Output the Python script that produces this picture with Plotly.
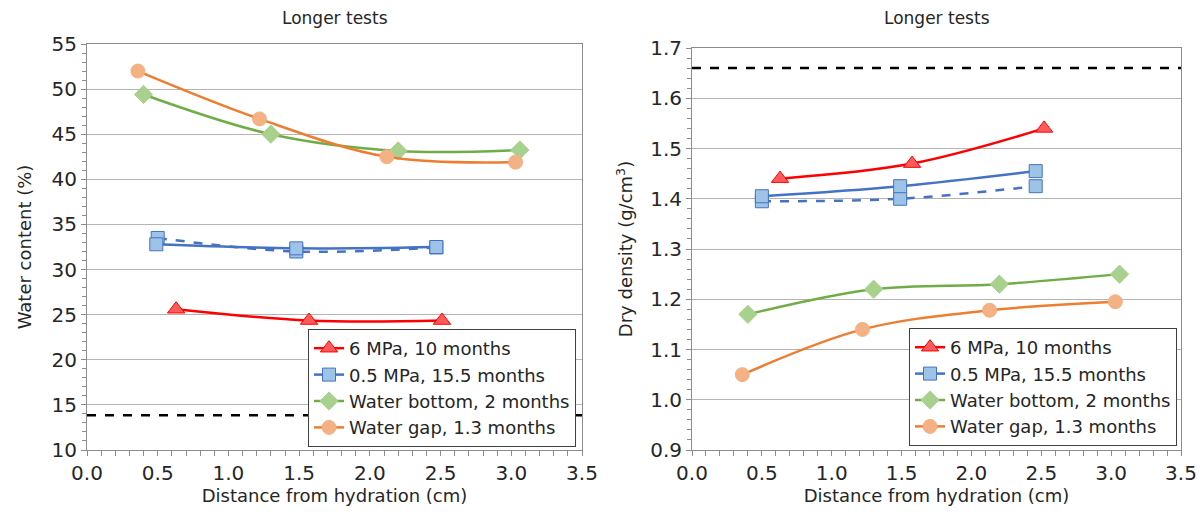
import plotly.graph_objects as go

# ---------------- data ----------------
series_names = ["6 MPa, 10 months", "0.5 MPa, 15.5 months",
                "Water bottom, 2 months", "Water gap, 1.3 months"]

# Left chart: water content (%)
wc_6mpa_x = [0.63, 1.57, 2.51]
wc_6mpa_y = [25.6, 24.35, 24.35]
wc_05_x = [0.49, 1.48, 2.47]
wc_05_y = [32.8, 32.35, 32.5]
wc_05b_x = [0.50, 1.48, 2.47]
wc_05b_y = [33.5, 32.0, 32.45]
wc_wb_x = [0.40, 1.30, 2.20, 3.06]
wc_wb_y = [49.4, 45.0, 43.15, 43.25]
wc_wg_x = [0.36, 1.22, 2.12, 3.03]
wc_wg_y = [52.0, 46.7, 42.5, 41.9]
wc_ref_x = [0.0, 3.5]
wc_ref_y = [13.85, 13.85]

# Right chart: dry density (g/cm3)
dd_6mpa_x = [0.63, 1.575, 2.52]
dd_6mpa_y = [1.44, 1.47, 1.54]
dd_05_x = [0.50, 1.49, 2.46]
dd_05_y = [1.405, 1.425, 1.455]
dd_05b_x = [0.50, 1.49, 2.46]
dd_05b_y = [1.395, 1.40, 1.425]
dd_wb_x = [0.40, 1.30, 2.20, 3.06]
dd_wb_y = [1.17, 1.22, 1.23, 1.25]
dd_wg_x = [0.36, 1.22, 2.13, 3.03]
dd_wg_y = [1.05, 1.14, 1.178, 1.195]
dd_ref_x = [0.0, 3.5]
dd_ref_y = [1.66, 1.66]

x_tickvals = [0.0, 0.5, 1.0, 1.5, 2.0, 2.5, 3.0, 3.5]
x_ticktext = ["0.0", "0.5", "1.0", "1.5", "2.0", "2.5", "3.0", "3.5"]

# ---------------- styles ----------------
FONT = "DejaVu Sans"
styles = [
    dict(line=dict(color="#FF0000", width=2.5),
         marker=dict(symbol="triangle-up", size=15, color="#FF5B5B",
                     line=dict(color="#FF0000", width=1))),
    dict(line=dict(color="#4472C4", width=2.5),
         marker=dict(symbol="square", size=13, color="#9DC3E6",
                     line=dict(color="#4472C4", width=1))),
    dict(line=dict(color="#70AD47", width=2.5),
         marker=dict(symbol="diamond", size=14, color="#A9D18E",
                     line=dict(color="#A9D18E", width=1))),
    dict(line=dict(color="#ED7D31", width=2.5),
         marker=dict(symbol="circle", size=14, color="#F4B183",
                     line=dict(color="#F4B183", width=1))),
]

fig = go.Figure()


def add_panel(xa, ya, leg, data, dashed_blue, ref):
    fig.add_trace(go.Scatter(x=ref[0], y=ref[1], mode="lines",
                             line=dict(color="black", width=2.5, dash="dash"),
                             xaxis=xa, yaxis=ya, showlegend=False, hoverinfo="skip"))
    fig.add_trace(go.Scatter(x=dashed_blue[0], y=dashed_blue[1], mode="lines+markers",
                             line=dict(color="#4472C4", width=2.5, dash="dash", shape="spline"),
                             marker=styles[1]["marker"], xaxis=xa, yaxis=ya,
                             showlegend=False))
    for name, (xs, ys), st in zip(series_names, data, styles):
        fig.add_trace(go.Scatter(x=xs, y=ys, mode="lines+markers", name=name,
                                 line=dict(st["line"], shape="spline"),
                                 marker=st["marker"], xaxis=xa, yaxis=ya,
                                 legend=leg))


add_panel("x", "y", "legend",
          [(wc_6mpa_x, wc_6mpa_y), (wc_05_x, wc_05_y), (wc_wb_x, wc_wb_y), (wc_wg_x, wc_wg_y)],
          (wc_05b_x, wc_05b_y), (wc_ref_x, wc_ref_y))
add_panel("x2", "y2", "legend2",
          [(dd_6mpa_x, dd_6mpa_y), (dd_05_x, dd_05_y), (dd_wb_x, dd_wb_y), (dd_wg_x, dd_wg_y)],
          (dd_05b_x, dd_05b_y), (dd_ref_x, dd_ref_y))

# page body has an 8px default margin: size the figure so it fills the window
OFF = 8
W, H = 1204 - OFF, 515 - OFF


def px(v):
    return (v - OFF) / W


def py(v):
    return 1 - (v - OFF) / H


AXC = "#8C8C8C"
GRID = "#B4B4B4"
TXT = "#262626"
TICKF = dict(family=FONT, size=20, color=TXT)
TITLEF = dict(family=FONT, size=18, color=TXT)
LEGF = dict(family=FONT, size=18, color=TXT)

xcommon = dict(range=[0, 3.5], tickvals=x_tickvals, ticktext=x_ticktext,
               showgrid=False, zeroline=False, showline=True, linecolor=AXC,
               linewidth=1, mirror=True, ticks="outside", ticklen=5, tickcolor=AXC,
               minor=dict(dtick=0.1, ticks="outside", ticklen=5, tickcolor=AXC),
               tickfont=TICKF, automargin=False,
               title=dict(text="Distance from hydration (cm)", font=TITLEF, standoff=4))
ycommon = dict(showgrid=True, gridcolor=GRID, gridwidth=1, zeroline=False,
               showline=True, linecolor=AXC, linewidth=1, mirror=True, automargin=False,
               ticks="outside", ticklen=5, tickcolor=AXC, tickfont=TICKF)

fig.update_layout(
    width=W, height=H, margin=dict(l=0, r=0, t=0, b=0),
    paper_bgcolor="white", plot_bgcolor="white",
    font=dict(family=FONT, color=TXT),
    xaxis=dict(xcommon, domain=[px(87), px(582)], anchor="y"),
    xaxis2=dict(xcommon, domain=[px(692), px(1181)], anchor="y2"),
    yaxis=dict(ycommon, domain=[py(450), py(44)], anchor="x",
               range=[10, 55], dtick=5, tickformat="d",
               minor=dict(dtick=1, ticks="outside", ticklen=4, tickcolor=AXC),
               title=dict(text="Water content (%)", font=TITLEF, standoff=15)),
    yaxis2=dict(ycommon, domain=[py(450), py(48)], anchor="x2",
                range=[0.9, 1.7], dtick=0.1, tickformat=".1f",
                minor=dict(dtick=0.02, ticks="outside", ticklen=4, tickcolor=AXC),
                title=dict(text="Dry density (g/cm<sup>3</sup>)", font=TITLEF, standoff=12)),
    legend=dict(x=px(576), y=py(447), xanchor="right", yanchor="bottom",
                bgcolor="white", bordercolor="#404040", borderwidth=1,
                font=LEGF, tracegroupgap=0),
    legend2=dict(x=px(1177), y=py(446), xanchor="right", yanchor="bottom",
                 bgcolor="white", bordercolor="#404040", borderwidth=1,
                 font=LEGF, tracegroupgap=0),
    annotations=[
        dict(text="Longer tests", x=px((87 + 582) / 2), y=py(18), xref="paper", yref="paper",
             xanchor="center", yanchor="middle", showarrow=False,
             font=dict(family=FONT, size=17, color=TXT)),
        dict(text="Longer tests", x=px((692 + 1181) / 2), y=py(18), xref="paper", yref="paper",
             xanchor="center", yanchor="middle", showarrow=False,
             font=dict(family=FONT, size=17, color=TXT)),
    ],
)

fig.write_html("out.html")
